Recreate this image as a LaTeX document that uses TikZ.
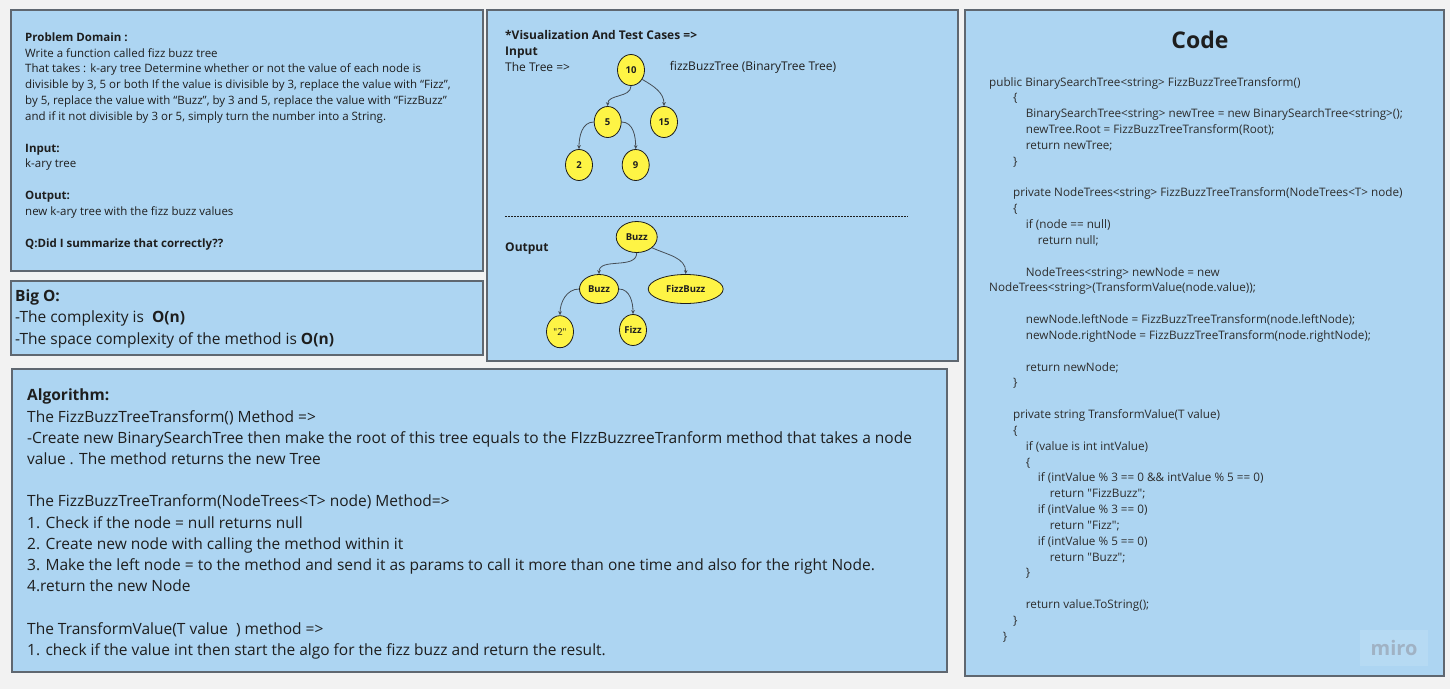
\documentclass[tikz,border=0pt]{standalone}
\usepackage{fontspec}
\setmainfont{Open Sans}
\newfontfamily\codefont{Open Sans}
\usetikzlibrary{shapes.geometric,positioning,arrows.meta}

\definecolor{boardgray}{RGB}{242,242,242}
\definecolor{cardblue}{RGB}{173,213,242}
\definecolor{cardline}{RGB}{95,103,112}
\definecolor{stickyyellow}{RGB}{254,244,69}
\definecolor{inkdark}{RGB}{30,30,30}
\definecolor{codeink}{RGB}{45,45,45}
\definecolor{arrowgray}{RGB}{70,78,86}
\definecolor{logogray}{RGB}{160,178,196}

\newcommand\ind[1]{\hspace*{#1pt}}

\tikzset{
  card/.style={draw=cardline, fill=cardblue, line width=1.3pt},
  textblock/.style={anchor=north west, align=left, inner sep=0pt, text=inkdark},
  treenode/.style={ellipse, draw=inkdark, fill=stickyyellow, line width=0.8pt,
    inner sep=0pt, minimum width=27pt, minimum height=31pt,
    font=\fontsize{9.5}{11}\selectfont\bfseries, text=inkdark},
  link/.style={draw=arrowgray, line width=0.8pt, -{Stealth[length=4pt,width=3.6pt]}},
}

\begin{document}
\begin{tikzpicture}[x=1pt,y=-1pt,on grid]
    \fill[boardgray] (0,0) rectangle (1450,689);

    % cards
    \draw[card] (11,10) rectangle (483,271);
    \draw[card] (11,281) rectangle (483,355);
    \draw[card] (487,10) rectangle (958,361);
    \draw[card] (12,369) rectangle (947,672);
    \draw[card] (965,10) rectangle (1444,676);

    % problem domain
    \node(Problem) [textblock, font=\fontsize{11.5}{15.82}\selectfont] at (25,32.4) {%
      \textbf{Problem Domain :}\\
      Write a function called fizz buzz tree\\
      That takes : k-ary tree Determine whether or not the value of each node is\\
      divisible by 3, 5 or both If the value is divisible by 3, replace the value with “Fizz”,\\
      by 5, replace the value with “Buzz”, by 3 and 5, replace the value with “FizzBuzz”\\
      and if it not divisible by 3 or 5, simply turn the number into a String.\\
      ~\\
      \textbf{Input:}\\
      k-ary tree\\
      ~\\
      \textbf{Output:}\\
      new k-ary tree with the fizz buzz values\\
      ~\\
      \textbf{Q:Did I summarize that correctly??}};

    % big o
    \node(BigO) [textblock, font=\fontsize{15.5}{21.5}\selectfont] at (15,289.5) {%
      \textbf{Big O:}\\
      -The complexity is\ \ \textbf{O(n)}\\
      -The space complexity of the method is \textbf{O(n)}};

    % algorithm
    \node(Algorithm) [textblock, font=\fontsize{15.5}{21.2}\selectfont] at (27,389) {%
      \textbf{Algorithm:}\\
      The FizzBuzzTreeTransform() Method =>\\
      -Create new BinarySearchTree then make the root of this tree equals to the FIzzBuzzreeTranform method that takes a node\\
      value . The method returns the new Tree\\
      ~\\
      The FizzBuzzTreeTranform(NodeTrees<T> node) Method=>\\
      1. Check if the node = null returns null\\
      2. Create new node with calling the method within it\\
      3. Make the left node = to the method and send it as params to call it more than one time and also for the right Node.\\
      4.return the new Node\\
      ~\\
      The TransformValue(T value\ \ ) method =>\\
      1. check if the value int then start the algo for the fizz buzz and return the result.};

    % visualization
    \node(Visual) [textblock, font=\fontsize{12}{16.3}\selectfont] at (505,30) {%
      \textbf{*Visualization And Test Cases =>}\\
      \textbf{Input}\\
      The Tree =>};
    \node(Signature) [anchor=west, inner sep=0pt, text=inkdark, font=\fontsize{12}{14}\selectfont] at (669.7,67.7) {fizzBuzzTree (BinaryTree Tree)};
    \node(Output) [anchor=west, inner sep=0pt, text=inkdark, font=\fontsize{12}{14}\selectfont\bfseries] at (505,249) {Output};
    \draw[inkdark, line width=0.7pt, dash pattern=on 2pt off 1pt] (505,216.7) -- (907.7,216.7);

    % input tree
    \node(n10) [treenode] at (631,70) {10};
    \node(n5)  [treenode, below left=52pt and 23.3pt of n10] {5};
    \node(n15) [treenode, below right=52pt and 33pt of n10] {15};
    \node(n2)  [treenode, below left=43pt and 28.7pt of n5] {2};
    \node(n9)  [treenode, below right=43pt and 28pt of n5] {9};
    \draw[link] (n10.south) to[out=-90,in=90] (n5.north);
    \draw[link] (n10.-40) to[out=-30,in=90] (n15.north);
    \draw[link] (n5.west) to[out=180,in=90] (n2.north);
    \draw[link] (n5.east) to[out=0,in=90] (n9.north);

    % output tree
    \node(oBuzz)     [treenode, minimum width=41pt] at (636.7,237) {Buzz};
    \node(oBuzzL)    [treenode, minimum width=39pt, minimum height=29pt, below left=52pt and 37.7pt of oBuzz] {Buzz};
    \node(oFizzBuzz) [treenode, minimum width=75pt, minimum height=29pt, below right=52pt and 49pt of oBuzz] {FizzBuzz};
    \node(oTwo)      [treenode, minimum height=32pt, below left=42.7pt and 39pt of oBuzzL] {\codefont\mdseries "2"};
    \node(oFizz)     [treenode, below right=41pt and 34pt of oBuzzL] {Fizz};
    \draw[link] (oBuzz.south) to[out=-90,in=90] (oBuzzL.north);
    \draw[link] (oBuzz.-35) to[out=-25,in=90] (oFizzBuzz.north);
    \draw[link] (oBuzzL.west) to[out=180,in=90] (oTwo.north);
    \draw[link] (oBuzzL.east) to[out=0,in=90] (oFizz.north);

    % code
    \node(CodeTitle) [text=inkdark, inner sep=0pt, font=\fontsize{23}{26}\selectfont\bfseries] at (1200,40) {Code};
    \node(Code) [textblock, text=codeink, font=\codefont\fontsize{11.7}{15.83}\selectfont] at (989,77) {%
      public BinarySearchTree<string> FizzBuzzTreeTransform()\\
      \ind{24}\{\\
      \ind{36.7}BinarySearchTree<string> newTree = new BinarySearchTree<string>();\\
      \ind{36.7}newTree.Root = FizzBuzzTreeTransform(Root);\\
      \ind{36.7}return newTree;\\
      \ind{24}\}\\
      ~\\
      \ind{24}private NodeTrees<string> FizzBuzzTreeTransform(NodeTrees<T> node)\\
      \ind{24}\{\\
      \ind{36.7}if (node == null)\\
      \ind{48.7}return null;\\
      ~\\
      \ind{36.7}NodeTrees<string> newNode = new\\
      NodeTrees<string>(TransformValue(node.value));\\
      ~\\
      \ind{36.7}newNode.leftNode = FizzBuzzTreeTransform(node.leftNode);\\
      \ind{36.7}newNode.rightNode = FizzBuzzTreeTransform(node.rightNode);\\
      ~\\
      \ind{36.7}return newNode;\\
      \ind{24}\}\\
      ~\\
      \ind{24}private string TransformValue(T value)\\
      \ind{24}\{\\
      \ind{36.7}if (value is int intValue)\\
      \ind{36.7}\{\\
      \ind{48.7}if (intValue \% 3 == 0 \&\& intValue \% 5 == 0)\\
      \ind{60.7}return "FizzBuzz";\\
      \ind{48.7}if (intValue \% 3 == 0)\\
      \ind{60.7}return "Fizz";\\
      \ind{48.7}if (intValue \% 5 == 0)\\
      \ind{60.7}return "Buzz";\\
      \ind{36.7}\}\\
      ~\\
      \ind{36.7}return value.ToString();\\
      \ind{24}\}\\
      \ind{13.7}\}};

    % watermark
    \node(Logo) [fill=white, fill opacity=0.12, text opacity=1, text=logogray, minimum width=68pt, minimum height=36pt,
      font=\fontsize{20}{22}\selectfont\bfseries] at (1394,648) {miro};
\end{tikzpicture}
\end{document}
